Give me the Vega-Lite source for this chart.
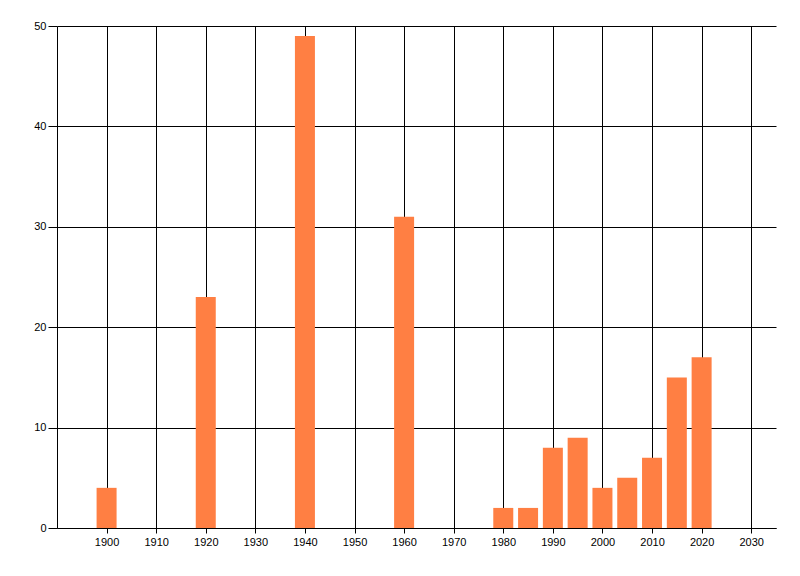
{
  "$schema": "https://vega.github.io/schema/vega-lite/v6.json",
  "autosize": "none",
  "width": 719,
  "height": 502,
  "padding": {"left": 57, "top": 26, "right": 24, "bottom": 48},
  "background": "white",
  "config": {
    "view": {"stroke": null},
    "axis": {
      "labelFont": "Liberation Sans",
      "labelFontSize": 11,
      "labelColor": "black",
      "domainColor": "black",
      "tickColor": "black",
      "gridColor": "black",
      "gridOpacity": 1,
      "gridWidth": 1,
      "domainWidth": 1,
      "tickWidth": 1,
      "title": null
    }
  },
  "data": {
    "values": [
      {"year": 1900, "count": 4},
      {"year": 1920, "count": 23},
      {"year": 1940, "count": 49},
      {"year": 1960, "count": 31},
      {"year": 1980, "count": 2},
      {"year": 1985, "count": 2},
      {"year": 1990, "count": 8},
      {"year": 1995, "count": 9},
      {"year": 2000, "count": 4},
      {"year": 2005, "count": 5},
      {"year": 2010, "count": 7},
      {"year": 2015, "count": 15},
      {"year": 2020, "count": 17}
    ]
  },
  "mark": {"type": "bar", "size": 20, "color": "#FF7F43"},
  "encoding": {
    "x": {
      "field": "year",
      "type": "quantitative",
      "scale": {"domain": [1890, 2035], "nice": false, "zero": false, "padding": 0},
      "axis": {
        "values": [1900, 1910, 1920, 1930, 1940, 1950, 1960, 1970, 1980, 1990, 2000, 2010, 2020, 2030],
        "format": "d",
        "grid": true,
        "tickSize": 5,
        "labelPadding": 3,
        "labelFlush": false,
        "labelOverlap": false
      }
    },
    "y": {
      "field": "count",
      "type": "quantitative",
      "scale": {"domain": [0, 50], "nice": false, "padding": 0},
      "axis": {
        "values": [0, 10, 20, 30, 40, 50],
        "grid": true,
        "tickSize": 9,
        "labelPadding": 2,
        "labelFlush": false,
        "labelOverlap": false
      }
    }
  }
}
